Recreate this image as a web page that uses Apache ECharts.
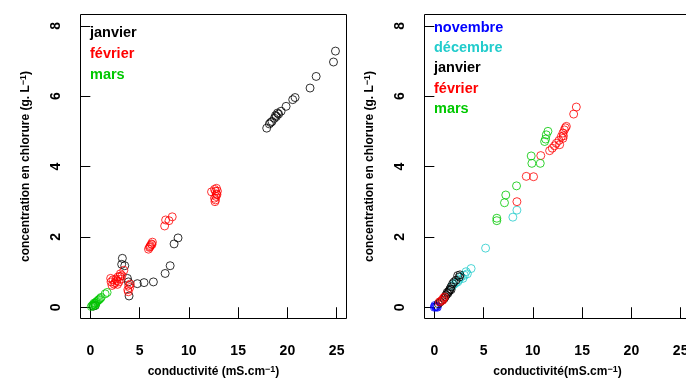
<!DOCTYPE html>
<html>
<head>
<meta charset="utf-8">
<script src="https://cdn.jsdelivr.net/npm/echarts@6/dist/echarts.min.js"></script>
<style>
html,body{margin:0;padding:0;background:#fff;}
#chart{width:686px;height:378px;}
</style>
</head>
<body>
<div id="chart"></div>
<script>
// ---- data (conductivité mS/cm, chlorure g/L) ----
const xTicks = [0, 5, 10, 15, 20, 25];
const yTicks = [0, 2, 4, 6, 8];

// left panel
const janvierA = [[0.3,0.03],[0.5,0.05],[3.25,1.39],[3.18,1.22],[3.49,1.18],[3.76,0.82],[3.86,0.72],[3.93,0.32],[4.77,0.67],[5.45,0.70],[6.4,0.72],[7.59,0.96],[8.1,1.18],[8.5,1.8],[8.9,1.97],[17.9,5.09],[18.17,5.21],[18.44,5.28],[18.3,5.25],[18.68,5.37],[18.88,5.42],[18.8,5.45],[19.11,5.49],[19.0,5.52],[19.36,5.57],[19.87,5.71],[20.54,5.9],[20.78,5.96],[22.3,6.23],[22.92,6.56],[24.68,6.97],[24.88,7.28]];
const fevrierA = [[2.06,0.82],[2.1,0.72],[2.2,0.62],[2.3,0.78],[2.4,0.66],[2.5,0.7],[2.6,0.8],[2.7,0.75],[2.8,0.86],[2.9,0.72],[3.0,0.88],[3.1,0.8],[3.2,0.9],[2.75,0.65],[3.05,0.95],[3.4,1.05],[3.8,0.5],[3.85,0.44],[3.9,0.62],[4.0,0.56],[4.05,0.66],[5.9,1.65],[6.0,1.7],[6.1,1.75],[6.05,1.72],[6.2,1.8],[6.25,1.78],[6.3,1.85],[7.54,2.31],[7.64,2.48],[7.98,2.46],[8.31,2.57],[12.3,3.28],[12.6,3.35],[12.8,3.38],[12.7,3.3],[12.8,3.22],[12.75,3.15],[12.6,3.1],[12.7,3.05],[12.9,3.3],[12.65,3.0],[12.85,3.2]];
const marsA = [[0.1,0.02],[0.2,0.05],[0.3,0.08],[0.35,0.04],[0.4,0.12],[0.45,0.1],[0.5,0.06],[0.55,0.12],[0.6,0.15],[0.7,0.17],[0.8,0.2],[0.9,0.22],[1.0,0.25],[1.1,0.28],[1.5,0.38],[1.7,0.42]];

// right panel
const novembreB = [[0.0,0.0],[0.1,0.02],[0.17,0.01],[0.05,0.05],[0.25,0.03],[0.3,0.0]];
const decembreB = [[1.8,0.6],[2.0,0.65],[2.2,0.7],[2.37,0.72],[2.5,0.78],[2.71,0.86],[2.9,0.82],[3.05,0.91],[3.22,1.01],[3.35,0.95],[3.73,1.1],[5.2,1.68],[7.97,2.56],[8.38,2.76]];
const janvierB = [[0.4,0.1],[0.6,0.15],[0.8,0.2],[1.0,0.25],[1.1,0.3],[1.2,0.35],[1.3,0.42],[1.36,0.39],[1.45,0.44],[1.53,0.48],[1.6,0.52],[1.7,0.5],[1.69,0.58],[1.86,0.67],[2.0,0.72],[2.2,0.77],[2.37,0.9],[2.54,0.86],[2.6,0.92]];
const fevrierB = [[0.51,0.15],[0.7,0.18],[0.85,0.2],[0.9,0.25],[1.02,0.29],[8.38,3.0],[9.33,3.72],[10.07,3.71],[10.8,4.31],[11.7,4.45],[11.97,4.52],[12.2,4.59],[12.38,4.66],[12.65,4.74],[12.72,4.62],[12.89,4.85],[13.05,4.8],[13.05,4.95],[13.1,4.87],[13.2,5.04],[13.3,5.1],[13.4,5.14],[14.14,5.49],[14.41,5.69]];
const marsB = [[6.34,2.46],[6.34,2.53],[7.12,2.97],[7.25,3.19],[8.34,3.45],[9.83,4.3],[9.9,4.09],[10.75,4.09],[11.19,4.71],[11.29,4.78],[11.36,4.9],[11.53,5.0]];

const legendA = ['janvier', 'février', 'mars'];
const legendB = ['novembre', 'décembre', 'janvier', 'février', 'mars'];

const COL = {novembre:'#0000FF', 'décembre':'#22CCCC', janvier:'#000000', 'février':'#FF0000', mars:'#00C800'};
const FONT = '"Liberation Sans", Arial, Helvetica, sans-serif';

const chart = echarts.init(document.getElementById('chart'), null, {renderer:'canvas'});

function xAxis(grid, name) {
  return {
    type:'value', gridIndex:grid, min:-1, max:26,
    axisLine:{show:false}, splitLine:{show:false},
    axisTick:{show:true, inside:false, length:11, customValues:xTicks, lineStyle:{color:'#000', width:1}},
    axisLabel:{customValues:xTicks, margin:26, color:'#000', fontSize:14, fontWeight:'bold', fontFamily:FONT, hideOverlap:false},
    name:name, nameLocation:'middle', nameGap:47,
    nameTextStyle:{color:'#000', fontSize:12, fontWeight:'bold', fontFamily:FONT,
      rich:{sup:{fontSize:9, fontWeight:'bold', fontFamily:FONT, color:'#000', verticalAlign:'top', lineHeight:9}}}
  };
}
function yAxis(grid, name) {
  return {
    type:'value', gridIndex:grid, min:-0.32, max:8.32,
    axisLine:{show:false}, splitLine:{show:false},
    axisTick:{show:true, inside:false, length:10, customValues:yTicks, lineStyle:{color:'#000', width:1}},
    axisLabel:{customValues:yTicks, rotate:90, margin:17, color:'#000', fontSize:14, fontWeight:'bold', fontFamily:FONT},
    name:name, nameLocation:'middle', nameGap:49, nameRotate:90,
    nameTextStyle:{color:'#000', fontSize:12, fontWeight:'bold', fontFamily:FONT,
      rich:{sup:{fontSize:9, fontWeight:'bold', fontFamily:FONT, color:'#000', verticalAlign:'top', lineHeight:9}}}
  };
}
function sc(name, data, xi) {
  return {
    type:'scatter', name:name, xAxisIndex:xi, yAxisIndex:xi, data:data,
    symbol:'circle', symbolSize:8, silent:true,
    itemStyle:{color:'rgba(255,255,255,0)', borderColor:COL[name], borderWidth:1},
    emphasis:{disabled:true}
  };
}
function legendTexts(names, x, y0, step) {
  return names.map((n, i) => ({
    type:'text', left:x, top:y0 + i*step, silent:true,
    style:{text:n, fill:COL[n], font:'bold 14.5px ' + FONT, textVerticalAlign:'middle'}
  }));
}

chart.setOption({
  animation:false,
  backgroundColor:'#fff',
  grid:[
    {left:80.5, top:14.5, width:266, height:304, show:true, borderColor:'#000', borderWidth:1, backgroundColor:'rgba(0,0,0,0)', containLabel:false, outerBoundsMode:'none'},
    {left:424.5, top:14.5, width:266, height:304, show:true, borderColor:'#000', borderWidth:1, backgroundColor:'rgba(0,0,0,0)', containLabel:false, outerBoundsMode:'none'}
  ],
  xAxis:[xAxis(0, 'conductivité (mS.cm{sup|−1})'), xAxis(1, 'conductivité(mS.cm{sup|−1})')],
  yAxis:[yAxis(0, 'concentration en chlorure (g. L{sup|−1})'), yAxis(1, 'concentration en chlorure (g. L{sup|−1})')],
  series:[
    sc('janvier', janvierA, 0), sc('février', fevrierA, 0), sc('mars', marsA, 0),
    sc('novembre', novembreB, 1), sc('décembre', decembreB, 1), sc('janvier', janvierB, 1), sc('février', fevrierB, 1), sc('mars', marsB, 1)
  ],
  graphic: legendTexts(legendA, 90, 25, 21).concat(legendTexts(legendB, 434, 20, 20.4))
});
</script>
</body>
</html>
